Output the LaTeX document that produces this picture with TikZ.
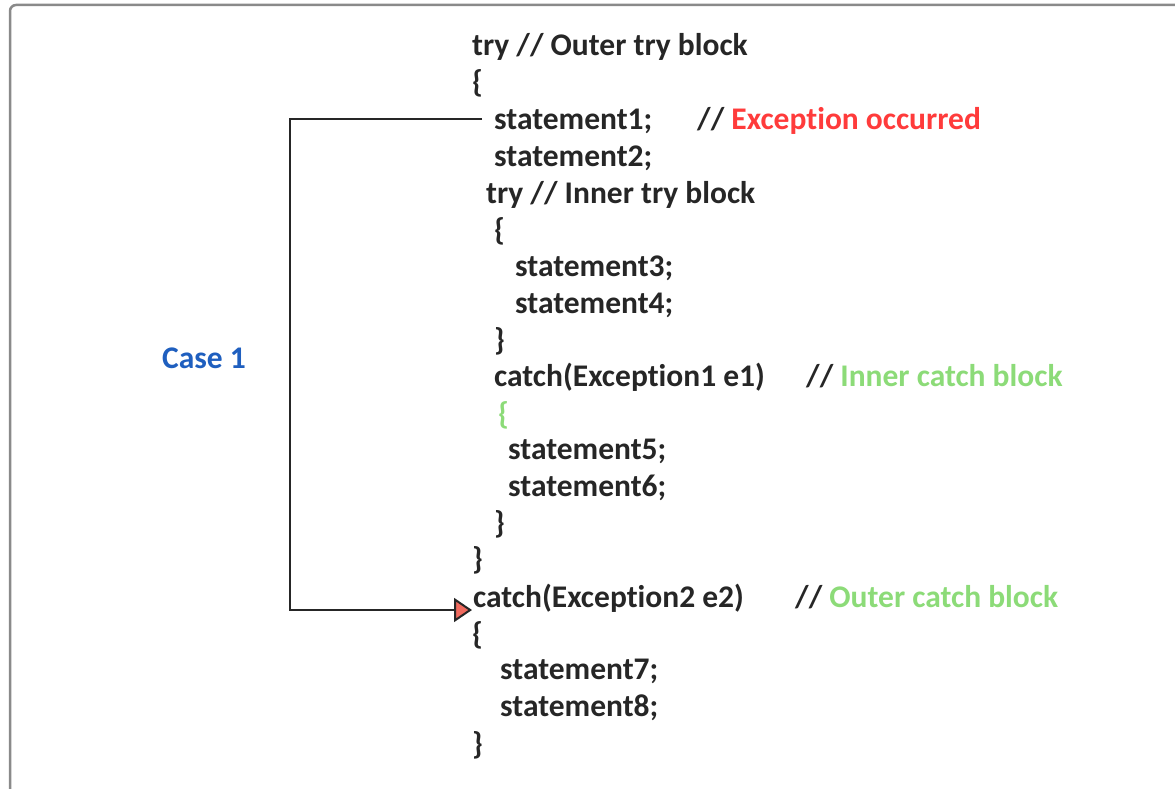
\documentclass[tikz,border=0pt]{standalone}
\usepackage{fontspec}
\setmainfont{Carlito}[Ligatures=NoCommon]
\usetikzlibrary{arrows.meta}
\definecolor{errred}{HTML}{FF3B3B}
\definecolor{okgreen}{HTML}{8CDB78}
\definecolor{caseblue}{HTML}{1F5FBF}
\definecolor{framegray}{HTML}{8A8A8A}
\definecolor{tipfill}{HTML}{F06A5E}
\begin{document}
\begin{tikzpicture}[x=1pt,y=-1pt,
  code/.style={anchor=base west,inner sep=0pt,
    font=\fontsize{31.5}{36}\selectfont\bfseries,text=black!85},
  flow/.style={line width=2.6pt,draw=black!85},
]
\useasboundingbox (0,0) rectangle (1175,789);
% frame around the listing
\draw[framegray,line width=2.5pt,rounded corners=6pt] (10,800) -- (10,5) -- (1190,5);

% outer try
\node[code] (t1) at (472,56) {try // Outer try block};
\node[code] (b1) at (472,93) {\{};
\node[code] (s1) at (494,130) {statement1;};
\node[code] (c1) at (697,130) {// \textcolor{errred}{Exception occurred}};
\node[code] (s2) at (494,167) {statement2;};
% inner try
\node[code] (t2) at (486,203) {try // Inner try block};
\node[code] (b2) at (494,240) {\{};
\node[code] (s3) at (515,276) {statement3;};
\node[code] (s4) at (515,313) {statement4;};
\node[code] (e2) at (494,350) {\}};
\node[code] (k1) at (494,386) {catch(Exception1 e1)};
\node[code] (c2) at (806,386) {// \textcolor{okgreen}{Inner catch block}};
\node[code,text=okgreen] (b3) at (498,424) {\{};
\node[code] (s5) at (508,459) {statement5;};
\node[code] (s6) at (508,496) {statement6;};
\node[code] (e3) at (494,533) {\}};
\node[code] (e1) at (472,569) {\}};
% outer catch
\node[code] (k2) at (473,607) {catch(Exception2 e2)};
\node[code] (c3) at (795,607) {// \textcolor{okgreen}{Outer catch block}};
\node[code] (b4) at (472,644) {\{};
\node[code] (s7) at (500,679) {statement7;};
\node[code] (s8) at (500,716) {statement8;};
\node[code] (e4) at (472,754) {\}};

% control flow
\node[code,text=caseblue] (case) at (162,368) {Case 1};
\coordinate (from) at ([xshift=-12pt]s1.base west |- 0,119);
\coordinate (bend) at (290,610);
\draw[flow,-{Triangle[length=18pt,width=24pt,fill=tipfill,line width=2pt]}]
  (from) -| (bend) -- ([xshift=-1pt]k2.base west |- bend);
\end{tikzpicture}
\end{document}
